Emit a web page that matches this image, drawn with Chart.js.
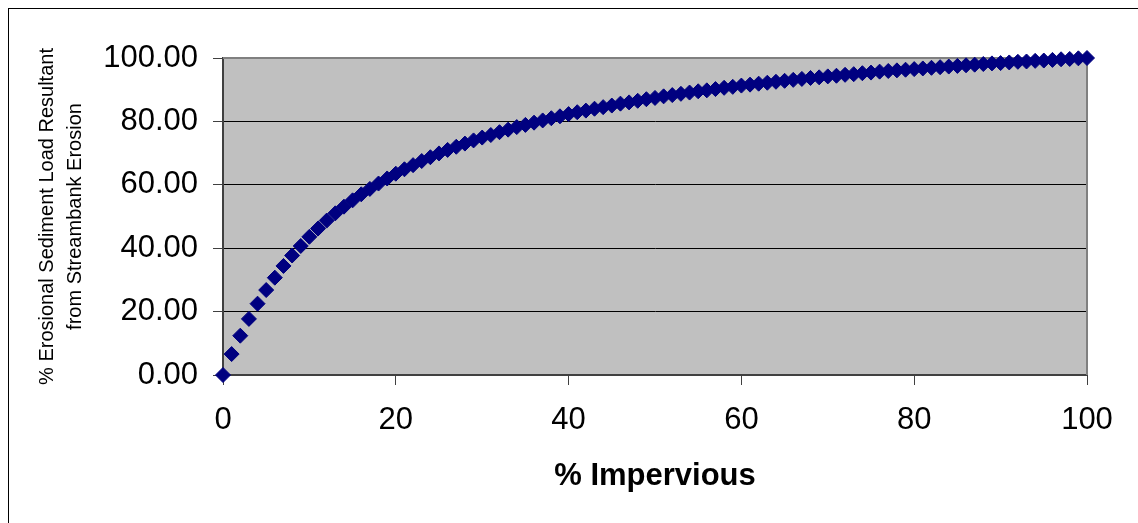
<!DOCTYPE html>
<html>
<head>
<meta charset="utf-8">
<script src="https://cdn.jsdelivr.net/npm/chart.js@4/dist/chart.umd.min.js"></script>
<style>
  body { margin: 0; background: #fff; }
  #wrap { position: relative; width: 1138px; height: 523px; overflow: hidden; }
  #frame { position: absolute; left: 8px; top: 8px; width: 1200px; height: 600px;
           border-left: 1px solid #000; border-top: 1px solid #000; }
  canvas { position: absolute; left: 0; top: 0; }
</style>
</head>
<body>
<div id="wrap">
  <div id="frame"></div>
  <canvas id="myChart" width="1138" height="523"></canvas>
</div>
<script>
// % impervious (x) and % erosional load from streambank erosion (y)
const impervious = [
  0, 1, 2, 3, 4, 5, 6, 7, 8, 9,
  10, 11, 12, 13, 14, 15, 16, 17, 18, 19,
  20, 21, 22, 23, 24, 25, 26, 27, 28, 29,
  30, 31, 32, 33, 34, 35, 36, 37, 38, 39,
  40, 41, 42, 43, 44, 45, 46, 47, 48, 49,
  50, 51, 52, 53, 54, 55, 56, 57, 58, 59,
  60, 61, 62, 63, 64, 65, 66, 67, 68, 69,
  70, 71, 72, 73, 74, 75, 76, 77, 78, 79,
  80, 81, 82, 83, 84, 85, 86, 87, 88, 89,
  90, 91, 92, 93, 94, 95, 96, 97, 98, 99,
  100
];
const erosionLoad = [
  0.0, 6.6, 12.4, 17.7, 22.5, 26.8, 30.7, 34.4, 37.7, 40.7,
  43.6, 46.2, 48.7, 51.0, 53.1, 55.1, 57.0, 58.7, 60.4, 62.0,
  63.5, 64.9, 66.2, 67.5, 68.7, 69.9, 71.0, 72.0, 73.0, 74.0,
  74.9, 75.7, 76.6, 77.4, 78.2, 78.9, 79.6, 80.3, 81.0, 81.6,
  82.3, 82.9, 83.4, 84.0, 84.5, 85.0, 85.6, 86.0, 86.5, 87.0,
  87.4, 87.9, 88.3, 88.7, 89.1, 89.5, 89.8, 90.2, 90.6, 90.9,
  91.3, 91.6, 91.9, 92.2, 92.5, 92.8, 93.1, 93.4, 93.7, 93.9,
  94.2, 94.4, 94.7, 94.9, 95.2, 95.4, 95.7, 95.9, 96.1, 96.3,
  96.5, 96.7, 96.9, 97.1, 97.3, 97.5, 97.7, 97.9, 98.1, 98.3,
  98.4, 98.6, 98.8, 98.9, 99.1, 99.2, 99.4, 99.6, 99.7, 99.9,
  100.0
];
const xTitle = "% Impervious";
const yTitle = ["% Erosional Sediment Load Resultant", "from Streambank Erosion"];

const points = impervious.map((x, i) => ({ x: x, y: erosionLoad[i] }));

// grey plot area with a grey frame on top/right, like the old Excel chart
const plotArea = {
  id: "plotArea",
  beforeDraw(chart) {
    const { ctx, chartArea: a } = chart;
    ctx.save();
    ctx.fillStyle = "#c0c0c0";
    ctx.fillRect(a.left, a.top, a.right - a.left, a.bottom - a.top);
    ctx.restore();
  },
  beforeDatasetsDraw(chart) {
    const { ctx, chartArea: a } = chart;
    ctx.save();
    ctx.strokeStyle = "#808080";
    ctx.lineWidth = 2;
    ctx.beginPath();
    ctx.moveTo(a.left, a.top);
    ctx.lineTo(a.right, a.top);
    ctx.lineTo(a.right, a.bottom);
    ctx.stroke();
    ctx.restore();
  }
};

Chart.defaults.font.family = "'Liberation Sans', Arial, sans-serif";
Chart.defaults.color = "#000";

const config = {
  type: "scatter",
  data: {
    datasets: [{
      data: points,
      pointStyle: "rectRot",
      pointRadius: 7.5,
      pointHoverRadius: 7.5,
      backgroundColor: "#000080",
      borderColor: "#000080",
      borderWidth: 1,
      clip: false
    }]
  },
  options: {
    responsive: false,
    animation: false,
    devicePixelRatio: 1,
    layout: { padding: { top: 58, right: 51, left: 0, bottom: 0 } },
    plugins: { legend: { display: false }, tooltip: { enabled: false } },
    scales: {
      x: {
        type: "linear",
        min: 0,
        max: 100,
        afterFit: (s) => { s.height = 148; },
        ticks: { stepSize: 20, padding: 17, font: { size: 31 }, maxRotation: 0 },
        grid: { drawOnChartArea: false, tickLength: 10, tickColor: "#404040", tickWidth: 1 },
        border: { color: "#404040", width: 2 },
        title: {
          display: true,
          text: xTitle,
          font: { size: 31, weight: "bold", lineHeight: 1.2 },
          padding: { top: 0, bottom: 28 }
        }
      },
      y: {
        min: 0,
        max: 100,
        afterFit: (s) => { s.width = 223; },
        ticks: {
          stepSize: 20,
          padding: 15,
          font: { size: 31 },
          callback: (v) => v.toFixed(2)
        },
        grid: {
          color: (c) => (c.tick && c.tick.value === 100 ? "#808080" : "#000"),
          lineWidth: 1,
          tickLength: 10,
          tickColor: "#404040"
        },
        border: { color: "#404040", width: 2 },
        title: {
          display: true,
          text: yTitle,
          font: { size: 20, lineHeight: 1.4 },
          padding: { top: 33, bottom: 0 }
        }
      }
    }
  },
  plugins: [plotArea]
};

let myChart = new Chart(document.getElementById("myChart"), config);
</script>
</body>
</html>
